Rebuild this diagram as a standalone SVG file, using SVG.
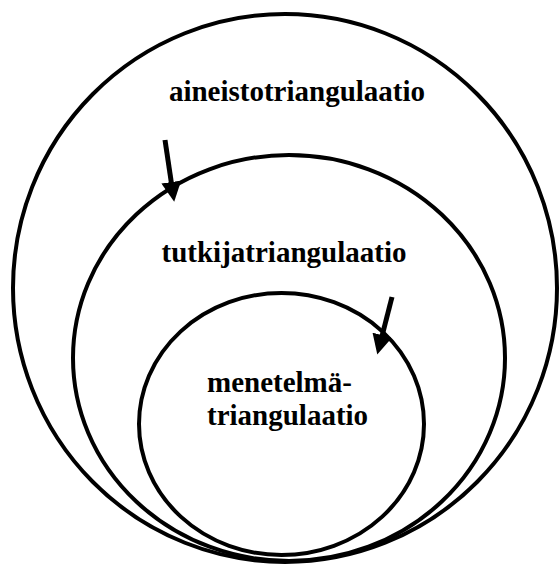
<svg xmlns="http://www.w3.org/2000/svg" width="560" height="564" viewBox="0 0 560 564">
<style>
.ring{fill:none;stroke:#000;stroke-width:4}
.lbl{font-family:"Liberation Serif","Times New Roman",serif;font-weight:bold;font-size:29px;fill:#000}
.arr{stroke:#000;stroke-width:5;fill:none}
</style>
<defs>
<marker id="ah" markerWidth="4" markerHeight="4" refX="1" refY="2" orient="auto" markerUnits="strokeWidth" viewBox="0 0 4 4">
<path d="M0,0 L4,2 L0,4 z" fill="#000"/>
</marker>
</defs>
<rect width="560" height="564" fill="#fff"/>
<g id="outer">
<ellipse class="ring" cx="285" cy="288" rx="272" ry="274"/>
<text class="lbl" x="297" y="101" text-anchor="middle">aineistotriangulaatio</text>
</g>
<g id="middle">
<ellipse class="ring" cx="289" cy="358" rx="216" ry="203"/>
<text class="lbl" x="284" y="262" text-anchor="middle">tutkijatriangulaatio</text>
</g>
<g id="inner">
<ellipse class="ring" cx="281.5" cy="424" rx="142.5" ry="131"/>
<text class="lbl" x="207" y="392">menetelmä-</text>
<text class="lbl" x="207" y="425">triangulaatio</text>
</g>
<g id="connectors">
<line class="arr" x1="165" y1="140" x2="172" y2="187" marker-end="url(#ah)"/>
<line class="arr" x1="392" y1="297" x2="381" y2="340" marker-end="url(#ah)"/>
</g>
</svg>
